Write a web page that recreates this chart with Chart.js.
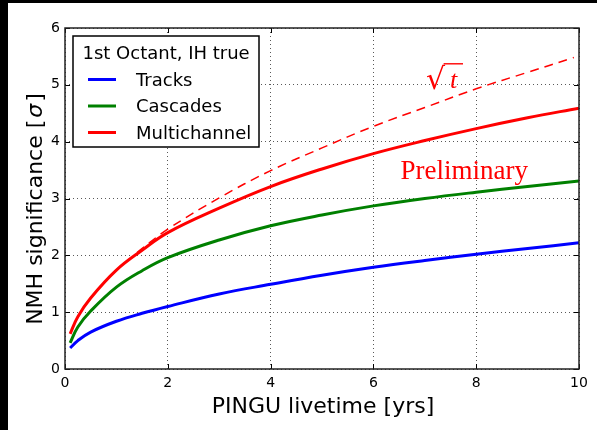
<!DOCTYPE html>
<html>
<head>
<meta charset="utf-8">
<script src="https://cdn.jsdelivr.net/npm/chart.js@4/dist/chart.umd.min.js"></script>
<style>
  html, body { margin: 0; padding: 0; background: #fff; }
  #wrap { width: 597px; height: 430px; position: relative; }
  canvas { display: block; }
</style>
</head>
<body>
<div id="wrap"><canvas id="c" width="597" height="430"></canvas></div>
<script>
// Livetime sample points [yrs]
const livetime = [0.1, 0.25, 0.5, 1, 1.5, 2, 3, 4, 5, 6, 7, 8, 9, 10];
// NMH significance [sigma] per channel
const tracks       = [0.37, 0.50, 0.65, 0.84, 0.98, 1.10, 1.32, 1.49, 1.65, 1.79, 1.91, 2.02, 2.12, 2.22];
const cascades     = [0.46, 0.74, 1.02, 1.44, 1.73, 1.96, 2.27, 2.52, 2.71, 2.87, 3.00, 3.11, 3.21, 3.31];
const multichannel = [0.62, 0.92, 1.25, 1.74, 2.09, 2.40, 2.83, 3.21, 3.52, 3.79, 4.02, 4.23, 4.42, 4.59];
// sqrt(t) scaling reference
const refLivetime  = [1.4, 2, 3, 4, 5, 6, 7, 8, 9, 9.9];
const refSqrt      = [2.05, 2.46, 3.01, 3.49, 3.89, 4.27, 4.60, 4.93, 5.22, 5.48];
// Axis ticks
const xTicks = [0, 2, 4, 6, 8, 10];
const yTicks = [0, 1, 2, 3, 4, 5, 6];

const legendTitle = '1st Octant, IH true';
const xTitle = 'PINGU livetime [yrs]';
const yTitleMain = 'NMH significance [';
const yTitleSym = 'σ';
const yTitleEnd = ']';

const pts = (xs, ys) => xs.map((x, i) => ({ x: x, y: ys[i] }));

const sans = '"DejaVu Sans", sans-serif';
const serif = '"Liberation Serif", "DejaVu Serif", serif';

const decor = {
  id: 'decor',
  beforeDraw(chart) {
    const ctx = chart.ctx;
    ctx.save();
    ctx.fillStyle = '#000';
    ctx.fillRect(0, 0, chart.width, chart.height);
    ctx.fillStyle = '#fff';
    ctx.fillRect(8, 3, chart.width - 8, chart.height - 3);
    ctx.restore();
  },
  afterDraw(chart) {
    const { ctx, chartArea: a, scales } = chart;
    const xs = scales.x, ys = scales.y;
    ctx.save();
    // inward tick marks on all four sides
    ctx.strokeStyle = '#000';
    ctx.lineWidth = 1;
    ctx.beginPath();
    xs.ticks.forEach(t => {
      const px = Math.round(xs.getPixelForValue(t.value)) + 0.5;
      ctx.moveTo(px, a.bottom); ctx.lineTo(px, a.bottom - 5);
      ctx.moveTo(px, a.top); ctx.lineTo(px, a.top + 5);
    });
    ys.ticks.forEach(t => {
      const py = Math.round(ys.getPixelForValue(t.value)) + 0.5;
      ctx.moveTo(a.left, py); ctx.lineTo(a.left + 5, py);
      ctx.moveTo(a.right, py); ctx.lineTo(a.right - 5, py);
    });
    ctx.stroke();
    // axes frame
    ctx.strokeStyle = '#222';
    ctx.lineWidth = 1.5;
    ctx.strokeRect(a.left, a.top, a.right - a.left, a.bottom - a.top);

    // axis titles
    ctx.fillStyle = '#000';
    ctx.font = '22px ' + sans;
    ctx.textAlign = 'center';
    ctx.textBaseline = 'alphabetic';
    ctx.fillText(xTitle, (a.left + a.right) / 2 + 1, 412.5);

    ctx.save();
    ctx.translate(42, 209);
    ctx.rotate(-Math.PI / 2);
    ctx.textAlign = 'left';
    const fMain = '22px ' + sans, fSym = 'italic 22px ' + sans;
    ctx.font = fMain; const w1 = ctx.measureText(yTitleMain).width;
    ctx.font = fSym;  const w2 = ctx.measureText(yTitleSym).width;
    ctx.font = fMain; const w3 = ctx.measureText(yTitleEnd).width;
    const gap = 2;
    let x0 = -(w1 + w2 + w3 + 2 * gap) / 2;
    ctx.font = fMain; ctx.fillText(yTitleMain, x0, 0); x0 += w1 + gap;
    ctx.font = fSym;  ctx.fillText(yTitleSym, x0, 0); x0 += w2 + gap;
    ctx.font = fMain; ctx.fillText(yTitleEnd, x0, 0);
    ctx.restore();

    // legend box
    const lx = 73, ly = 36, lw = 186, lh = 111;
    ctx.fillStyle = '#fff';
    ctx.fillRect(lx, ly, lw, lh);
    ctx.strokeStyle = '#000';
    ctx.lineWidth = 1.5;
    ctx.strokeRect(lx, ly, lw, lh);
    ctx.fillStyle = '#000';
    ctx.font = '18px ' + sans;
    ctx.textAlign = 'left';
    ctx.fillText(legendTitle, 82.5, 58.5);
    const rows = [79.5, 106, 132.5];
    chart.data.datasets.slice(0, 3).forEach((ds, i) => {
      ctx.strokeStyle = ds.borderColor;
      ctx.lineWidth = 3;
      ctx.beginPath();
      ctx.moveTo(88, rows[i]); ctx.lineTo(116, rows[i]);
      ctx.stroke();
      ctx.fillStyle = '#000';
      ctx.fillText(ds.label, 136, rows[i] + 6.4);
    });

    // annotations
    ctx.fillStyle = '#ff0000';
    ctx.strokeStyle = '#ff0000';
    ctx.font = '27px ' + serif;
    ctx.fillText('Preliminary', 400.5, 179);
    ctx.font = '30px "DejaVu Serif", serif';
    ctx.fillText('√', 426, 89);
    const rw = ctx.measureText('√').width;
    ctx.lineWidth = 1.4;
    ctx.beginPath();
    ctx.moveTo(426 + rw - 1.5, 63.8); ctx.lineTo(463, 63.8);
    ctx.stroke();
    ctx.font = 'italic 26px ' + serif;
    ctx.fillText('t', 450, 87.5);
    ctx.restore();
  }
};

new Chart(document.getElementById('c'), {
  type: 'line',
  data: {
    datasets: [
      { label: 'Tracks', data: pts(livetime, tracks), borderColor: '#0000ff', borderWidth: 3 },
      { label: 'Cascades', data: pts(livetime, cascades), borderColor: '#008000', borderWidth: 3 },
      { label: 'Multichannel', data: pts(livetime, multichannel), borderColor: '#ff0000', borderWidth: 3 },
      { label: '√t', data: pts(refLivetime, refSqrt), borderColor: '#ff0000', borderWidth: 1.5, borderDash: [9, 6] }
    ]
  },
  options: {
    responsive: false,
    animation: false,
    devicePixelRatio: 1,
    datasets: { line: { pointRadius: 0, fill: false, tension: 0.4, borderCapStyle: 'butt' } },
    layout: { padding: { top: 28, right: 18, left: 0, bottom: 0 } },
    plugins: { legend: { display: false }, tooltip: { enabled: false }, title: { display: false } },
    scales: {
      x: {
        type: 'linear', min: 0, max: 10,
        afterBuildTicks: s => { s.ticks = xTicks.map(v => ({ value: v })); },
        afterFit: s => { s.height = 61; },
        ticks: { color: '#000', padding: 5.5, font: { family: sans, size: 14 }, maxRotation: 0 },
        grid: { color: 'rgba(0,0,0,0.65)', lineWidth: 1, drawTicks: false },
        border: { display: false, dash: [1, 3] }
      },
      y: {
        type: 'linear', min: 0, max: 6,
        afterBuildTicks: s => { s.ticks = yTicks.map(v => ({ value: v })); },
        afterFit: s => { s.width = 65; },
        ticks: { color: '#000', padding: 5, font: { family: sans, size: 14 } },
        grid: { color: 'rgba(0,0,0,0.65)', lineWidth: 1, drawTicks: false },
        border: { display: false, dash: [1, 3] }
      }
    }
  },
  plugins: [decor]
});
</script>
</body>
</html>
